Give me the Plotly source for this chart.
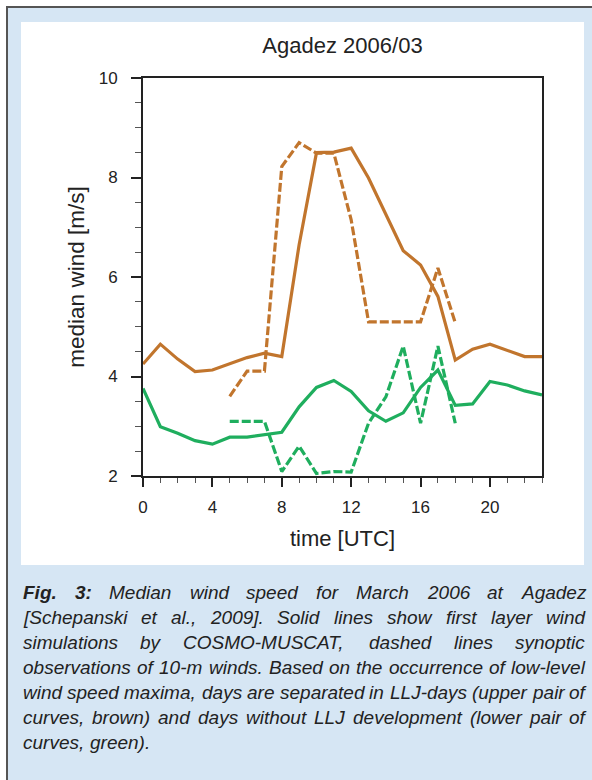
import plotly.graph_objects as go

# ---------------------------------------------------------------- data
hours = list(range(24))
obs_hours = list(range(5, 19))

# median wind [m/s], LLJ days (brown)
llj_model = [4.25, 4.65, 4.35, 4.10, 4.13, 4.25, 4.38, 4.47, 4.40, 6.65, 8.50, 8.51,
             8.59, 7.99, 7.26, 6.53, 6.24, 5.61, 4.33, 4.55, 4.65, 4.52, 4.40, 4.40]
llj_obs = [3.60, 4.11, 4.11, 8.22, 8.70, 8.49, 8.49, 7.15, 5.10, 5.10, 5.10, 5.10, 6.18, 5.08]

# median wind [m/s], days without LLJ (green)
nollj_model = [3.76, 2.99, 2.86, 2.71, 2.64, 2.78, 2.78, 2.83, 2.88, 3.39, 3.78, 3.92,
               3.70, 3.31, 3.10, 3.27, 3.78, 4.13, 3.42, 3.45, 3.90, 3.83, 3.71, 3.63]
nollj_obs = [3.10, 3.10, 3.10, 2.09, 2.60, 2.05, 2.09, 2.08, 3.06, 3.59, 4.61, 3.06, 4.61, 3.06]

x_ticks = [0, 4, 8, 12, 16, 20]
y_ticks = [2, 4, 6, 8, 10]

caption_lines = [
    "Fig. 3: Median wind speed for March 2006 at Agadez",
    "[Schepanski et al., 2009]. Solid lines show first layer wind",
    "simulations by COSMO-MUSCAT, dashed lines synoptic",
    "observations of 10-m winds. Based on the occurrence of low-level",
    "wind speed maxima, days are separated in LLJ-days (upper pair of",
    "curves, brown) and days without LLJ development (lower pair of",
    "curves, green).",
]
bold_words = {"Fig.", "3:"}

# ---------------------------------------------------------------- style
BROWN = "#c1752d"
GREEN = "#1fae5e"
INK = "#222222"
SANS = "Liberation Sans, Arial, sans-serif"
W, H = 592, 780
ML, MR, MT, MB = 143, 50, 78, 304
PW, PH = W - ML - MR, H - MT - MB


def fx(px):
    return (px - ML) / PW


def fy(py):
    return (H - MB - py) / PH


fig = go.Figure()
fig.add_trace(go.Scatter(x=hours, y=llj_model, mode="lines",
                         line=dict(color=BROWN, width=3.2), showlegend=False))
fig.add_trace(go.Scatter(x=obs_hours, y=llj_obs, mode="lines",
                         line=dict(color=BROWN, width=3.2, dash="9px,3px"), showlegend=False))
fig.add_trace(go.Scatter(x=hours, y=nollj_model, mode="lines",
                         line=dict(color=GREEN, width=3.2), showlegend=False))
fig.add_trace(go.Scatter(x=obs_hours, y=nollj_obs, mode="lines",
                         line=dict(color=GREEN, width=3.2, dash="9px,3px"), showlegend=False))

axis_common = dict(
    showline=True, mirror=True, linecolor=INK, linewidth=2,
    ticks="outside", tickcolor=INK, tickwidth=1.5,
    showgrid=False, zeroline=False,
    tickfont=dict(family=SANS, size=17, color=INK),
)
fig.update_xaxes(range=[0, 23], tickvals=x_ticks, ticklen=9, ticklabelstandoff=6,
                 minor=dict(ticks="outside", dtick=1, ticklen=5, tickcolor="#555", tickwidth=1.2),
                 title=dict(text="time [UTC]", standoff=14,
                            font=dict(family=SANS, size=22, color=INK)),
                 **axis_common)
fig.update_yaxes(range=[2, 10], tickvals=y_ticks, ticklen=10, ticklabelstandoff=10,
                 minor=dict(ticks="outside", dtick=0.5, ticklen=6, tickcolor="#555", tickwidth=1.2),
                 title=dict(text="median wind [m/s]", standoff=8,
                            font=dict(family=SANS, size=22.5, color=INK)),
                 **axis_common)

# ---------------------------------------------------------------- panel background
shapes = [
    dict(type="rect", xref="paper", yref="paper", layer="below",
         x0=fx(7), x1=fx(600), y0=fy(790), y1=fy(7),
         fillcolor="#d6e6f4", line=dict(color="#555555", width=2)),
    dict(type="rect", xref="paper", yref="paper", layer="below",
         x0=fx(21), x1=fx(584), y0=fy(565), y1=fy(22),
         fillcolor="white", line=dict(width=0)),
]

# ---------------------------------------------------------------- justified caption
# advance widths (1/1000 em) of the sans face used for the caption
ADV = dict(zip("abcdefghijklmnopqrstuvwxyz",
               [556, 556, 500, 556, 556, 278, 556, 556, 222, 222, 500, 222, 833,
                556, 556, 556, 556, 333, 500, 278, 556, 500, 722, 500, 500, 500]))
ADV.update(dict(zip("ABCDEFGHIJKLMNOPQRSTUVWXYZ",
                    [667, 667, 722, 722, 667, 611, 778, 722, 278, 500, 667, 556, 833,
                     722, 778, 667, 778, 722, 667, 611, 722, 667, 944, 667, 667, 611])))
ADV.update({d: 556 for d in "0123456789"})
ADV.update({" ": 278, ".": 278, ",": 278, ":": 278, ";": 278, "-": 333,
            "[": 278, "]": 278, "(": 333, ")": 333, "/": 278})
ADV_BOLD = dict(ADV)
ADV_BOLD.update({"F": 611, "i": 278, "g": 611, ":": 333})

CAP_FONT = "Liberation Sans, Arial, sans-serif"
CAP_SIZE = 19


def word_width(word, bold=False):
    table = ADV_BOLD if bold else ADV
    return sum(table.get(c, 556) for c in word) * CAP_SIZE / 1000


X_LEFT, X_RIGHT = 23, 585
annotations = []
for i, line in enumerate(caption_lines):
    words = line.split(" ")
    widths = [word_width(w, w in bold_words) for w in words]
    last = i == len(caption_lines) - 1
    if last or len(words) == 1:
        gap = word_width(" ")
    else:
        gap = (X_RIGHT - X_LEFT - sum(widths)) / (len(words) - 1)
    yc = 592 + 25 * i
    xpos = X_LEFT
    for w, wd in zip(words, widths):
        txt = f"<b><i>{w}</i></b>" if w in bold_words else f"<i>{w}</i>"
        annotations.append(dict(
            text=txt, xref="paper", yref="paper", x=fx(xpos), y=fy(yc),
            xanchor="left", yanchor="middle", showarrow=False,
            borderpad=0, borderwidth=0,
            font=dict(family=CAP_FONT, size=CAP_SIZE, color=INK)))
        xpos += wd + gap

fig.update_layout(
    width=W, height=H,
    margin=dict(l=ML, r=MR, t=MT, b=MB, autoexpand=False),
    paper_bgcolor="white", plot_bgcolor="white",
    title=dict(text="Agadez 2006/03", x=fx(342.5), xref="paper", xanchor="center",
               y=1 - 45 / H, yanchor="middle",
               font=dict(family=SANS, size=22, color=INK)),
    shapes=shapes,
    annotations=annotations,
)

fig.write_html("out.html")
